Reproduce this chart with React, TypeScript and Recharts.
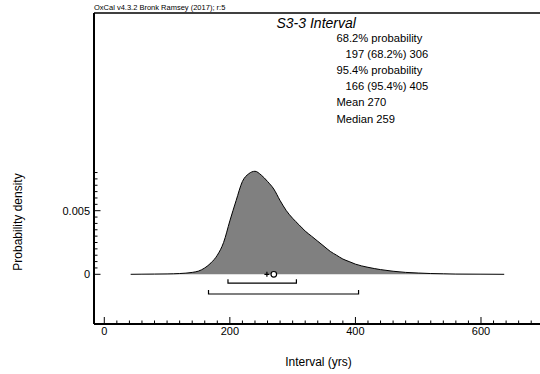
import React from 'react';
import {
  ComposedChart,
  Area,
  Line,
  XAxis,
  YAxis,
  ReferenceLine,
  ReferenceDot,
  Customized,
} from 'recharts';

// ---- data ----
const intervalYrs = [42, 60, 80, 100, 120, 140, 150, 160, 170, 180, 190, 200, 210, 220, 230, 240, 250, 260, 270, 280, 290, 300, 310, 320, 330, 340, 350, 360, 370, 380, 390, 400, 420, 440, 460, 480, 500, 520, 540, 560, 600, 637];
const density = [0, 0.00001, 0.00002, 0.00003, 0.00006, 0.00015, 0.00025, 0.0005, 0.0009, 0.0015, 0.0025, 0.0042, 0.0058, 0.0073, 0.0079, 0.0081, 0.0078, 0.0073, 0.0067, 0.0058, 0.005, 0.0044, 0.0039, 0.0034, 0.003, 0.0026, 0.0022, 0.0018, 0.0015, 0.0012, 0.001, 0.0008, 0.00055, 0.00037, 0.00024, 0.00015, 0.0001, 0.00006, 0.00004, 0.00002, 0.00001, 0];

const range68 = [197, 306];
const range95 = [166, 405];
const meanValue = 270;
const medianValue = 259;

const titleText = 'S3-3 Interval';
const creditText = 'OxCal v4.3.2 Bronk Ramsey (2017); r:5';
const xAxisTitle = 'Interval (yrs)';
const yAxisTitle = 'Probability density';

const xLabelTicks = [0, 200, 400, 600];
const xTicks = [0, 20, 40, 60, 80, 100, 120, 140, 160, 180, 200, 220, 240, 260, 280, 300, 320, 340, 360, 380, 400, 420, 440, 460, 480, 500, 520, 540, 560, 580, 600, 620, 640, 660, 680];
const yLabelTicks = [0, 0.005];
const yTicks = [0, 0.0005, 0.001, 0.0015, 0.002, 0.0025, 0.003, 0.0035, 0.004, 0.0045, 0.005, 0.0055, 0.006, 0.0065, 0.007, 0.0075, 0.008];

// ---- layout constants ----
const X_DOMAIN: [number, number] = [-16.4, 694];
const Y_DOMAIN: [number, number] = [-0.003907, 0.020542];
const LEVEL68 = -0.0007;
const TIP68 = -0.00039;
const LEVEL95 = -0.00155;
const TIP95 = -0.00123;
const FONT = '"Liberation Sans", Arial, sans-serif';

const curveData = intervalYrs.map((x, i) => ({ x, d: density[i] }));
const bracket = (r: number[], level: number, tip: number) => [
  { x: r[0], y: tip },
  { x: r[0], y: level },
  { x: r[1], y: level },
  { x: r[1], y: tip },
];

const infoLines = [
  { text: '68.2% probability', indent: false },
  { text: `${range68[0]} (68.2%) ${range68[1]}`, indent: true },
  { text: '95.4% probability', indent: false },
  { text: `${range95[0]} (95.4%) ${range95[1]}`, indent: true },
  { text: `Mean ${meanValue}`, indent: false },
  { text: `Median ${medianValue}`, indent: false },
];

const XTick = (props: any) => {
  const { x, y, payload } = props;
  const v = payload.value;
  const major = xLabelTicks.includes(v);
  return (
    <g>
      <line x1={x} x2={x} y1={y} y2={y - (major ? 7 : 3.5)} stroke="#000" strokeWidth={1} />
      {major && (
        <text x={x} y={y + 10.5} textAnchor="middle" fontSize={11} fontFamily={FONT} fill="#000">
          {v}
        </text>
      )}
    </g>
  );
};

const YTick = (props: any) => {
  const { x, y, payload } = props;
  const v = payload.value;
  const major = yLabelTicks.some((t) => Math.abs(t - v) < 1e-9);
  return (
    <g>
      <line x1={x} x2={x + (major ? 6.5 : 3.5)} y1={y} y2={y} stroke="#000" strokeWidth={1} />
      {major && (
        <text x={x - 4} y={y + 4} textAnchor="end" fontSize={11} fontFamily={FONT} fill="#000">
          {v}
        </text>
      )}
    </g>
  );
};

const Annotations = () => (
  <g fontFamily={FONT} fill="#000">
    <text x={94} y={10} fontSize={7.5}>{creditText}</text>
    <text x={276.5} y={27.5} fontSize={14} fontStyle="italic">{titleText}</text>
    {infoLines.map((l, i) => (
      <text key={i} x={l.indent ? 345.5 : 336.5} y={41.5 + i * 16.2} fontSize={11.2}>
        {l.text}
      </text>
    ))}
    <text x={318.5} y={366} fontSize={12} textAnchor="middle">{xAxisTitle}</text>
    <text x={22} y={222} fontSize={12} textAnchor="middle" transform="rotate(-90, 22, 222)">
      {yAxisTitle}
    </text>
  </g>
);

export default function App() {
  return (
    <div style={{ position: 'absolute', left: 0, top: 0, width: 540, height: 374, background: '#fff' }}>
      <ComposedChart
        width={540}
        height={374}
        data={curveData}
        margin={{ top: 13, right: 0, bottom: 49, left: 93 }}
      >
        <XAxis
          dataKey="x"
          type="number"
          domain={X_DOMAIN}
          allowDataOverflow
          ticks={xTicks}
          interval={0}
          tickSize={0}
          tickMargin={0}
          tick={XTick}
          height={1}
          axisLine={{ stroke: '#000', strokeWidth: 2 }}
        />
        <YAxis
          type="number"
          domain={Y_DOMAIN}
          allowDataOverflow
          ticks={yTicks}
          interval={0}
          tickSize={0}
          tickMargin={0}
          tick={YTick}
          width={1}
          axisLine={{ stroke: '#000', strokeWidth: 2 }}
        />
        <ReferenceLine y={Y_DOMAIN[1]} stroke="#000" strokeWidth={1.5} ifOverflow="extendDomain" />
        <Area
          dataKey="d"
          type="monotone"
          baseValue={0}
          fill="#808080"
          fillOpacity={1}
          stroke="#000"
          strokeWidth={1}
          isAnimationActive={false}
          dot={false}
          activeDot={false}
        />
        <Line
          data={bracket(range68, LEVEL68, TIP68)}
          dataKey="y"
          type="linear"
          stroke="#000"
          strokeWidth={1.2}
          dot={false}
          activeDot={false}
          isAnimationActive={false}
        />
        <Line
          data={bracket(range95, LEVEL95, TIP95)}
          dataKey="y"
          type="linear"
          stroke="#000"
          strokeWidth={1.2}
          dot={false}
          activeDot={false}
          isAnimationActive={false}
        />
        <ReferenceDot
          x={medianValue}
          y={0}
          r={3}
          shape={(p: any) => (
            <path
              d={`M${p.cx - 2.5},${p.cy}h5M${p.cx},${p.cy - 2.5}v5`}
              stroke="#000"
              strokeWidth={1.2}
              fill="none"
            />
          )}
        />
        <ReferenceDot x={meanValue} y={0} r={2.8} fill="#fff" stroke="#000" strokeWidth={1.2} />
        <Customized component={Annotations} />
      </ComposedChart>
    </div>
  );
}
